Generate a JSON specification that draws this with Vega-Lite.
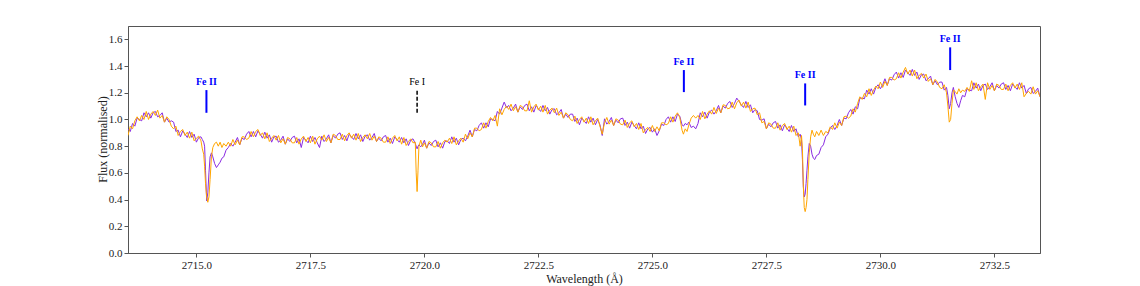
{
  "$schema": "https://vega.github.io/schema/vega-lite/v6.json",
  "width": 912,
  "height": 227,
  "autosize": "none",
  "padding": {"left": 128, "top": 26, "right": 100, "bottom": 33},
  "background": "white",
  "config": {
    "font": "Liberation Serif",
    "view": {"stroke": "#555", "strokeWidth": 1},
    "axis": {
      "grid": false,
      "labelFont": "Liberation Serif",
      "labelFontSize": 11,
      "labelColor": "#222",
      "titleFont": "Liberation Serif",
      "titleFontSize": 12,
      "titleFontWeight": "normal",
      "titleColor": "#222",
      "domainColor": "#555",
      "tickColor": "#555",
      "tickSize": 4,
      "labelPadding": 2
    },
    "axisX": {"titleX": 456, "titleY": 25, "titleBaseline": "middle"},
    "axisY": {"titleX": -26, "titleY": 113, "titleBaseline": "middle", "titleAngle": -90, "titleAlign": "center"}
  },
  "datasets": {
    "spec": [
      {"w":2713.50,"p":0.93,"o":0.88},{"w":2713.55,"p":0.91,"o":0.95},{"w":2713.60,"p":0.97,"o":0.93},{"w":2713.65,"p":0.95,"o":0.99},
      {"w":2713.70,"p":1.01,"o":1.02},{"w":2713.75,"p":1.00,"o":0.99},{"w":2713.80,"p":0.99,"o":1.03},{"w":2713.85,"p":1.05,"o":1.00},
      {"w":2713.90,"p":1.02,"o":1.06},{"w":2713.95,"p":1.05,"o":1.00},{"w":2714.00,"p":1.01,"o":1.04},{"w":2714.05,"p":1.05,"o":1.06},
      {"w":2714.10,"p":1.06,"o":1.03},{"w":2714.15,"p":1.02,"o":1.07},{"w":2714.20,"p":1.03,"o":1.01},{"w":2714.25,"p":1.05,"o":1.03},
      {"w":2714.30,"p":0.98,"o":0.98},{"w":2714.35,"p":1.01,"o":1.02},{"w":2714.40,"p":0.98,"o":1.00},{"w":2714.45,"p":0.99,"o":0.95},
      {"w":2714.50,"p":0.98,"o":0.93},{"w":2714.55,"p":0.91,"o":0.95},{"w":2714.60,"p":0.92,"o":0.88},{"w":2714.65,"p":0.87,"o":0.91},
      {"w":2714.70,"p":0.915,"o":0.925},{"w":2714.75,"p":0.89,"o":0.88},{"w":2714.80,"p":0.865,"o":0.905},{"w":2714.85,"p":0.91,"o":0.86},
      {"w":2714.90,"p":0.865,"o":0.905},{"w":2714.95,"p":0.89,"o":0.84},{"w":2715.00,"p":0.83,"o":0.86},{"w":2715.05,"p":0.865,"o":0.875},
      {"w":2715.10,"p":0.87,"o":0.84},{"w":2715.13,"p":0.85,"o":0.78},{"w":2715.16,"p":0.83,"o":0.74},{"w":2715.18,"p":0.80,"o":0.65},
      {"w":2715.20,"p":0.62,"o":0.52},{"w":2715.225,"p":0.39,"o":0.42},{"w":2715.25,"p":0.45,"o":0.38},{"w":2715.275,"p":0.60,"o":0.42},
      {"w":2715.30,"p":0.72,"o":0.55},{"w":2715.33,"p":0.75,"o":0.72},{"w":2715.36,"p":0.72,"o":0.79},{"w":2715.40,"p":0.67,"o":0.82},
      {"w":2715.44,"p":0.64,"o":0.83},{"w":2715.48,"p":0.66,"o":0.80},{"w":2715.52,"p":0.68,"o":0.83},{"w":2715.56,"p":0.71,"o":0.79},
      {"w":2715.60,"p":0.72,"o":0.82},{"w":2715.65,"p":0.77,"o":0.80},{"w":2715.70,"p":0.79,"o":0.83},{"w":2715.75,"p":0.82,"o":0.80},
      {"w":2715.80,"p":0.80,"o":0.85},{"w":2715.85,"p":0.83,"o":0.81},{"w":2715.90,"p":0.865,"o":0.845},{"w":2715.95,"p":0.81,"o":0.81},
      {"w":2716.00,"p":0.86,"o":0.87},{"w":2716.05,"p":0.85,"o":0.87},{"w":2716.10,"p":0.89,"o":0.85},{"w":2716.15,"p":0.91,"o":0.86},
      {"w":2716.20,"p":0.87,"o":0.91},{"w":2716.25,"p":0.91,"o":0.87},{"w":2716.30,"p":0.87,"o":0.91},{"w":2716.35,"p":0.915,"o":0.925},
      {"w":2716.40,"p":0.89,"o":0.88},{"w":2716.45,"p":0.86,"o":0.90},{"w":2716.50,"p":0.905,"o":0.855},{"w":2716.55,"p":0.86,"o":0.90},
      {"w":2716.60,"p":0.885,"o":0.835},{"w":2716.65,"p":0.83,"o":0.86},{"w":2716.70,"p":0.87,"o":0.88},{"w":2716.75,"p":0.875,"o":0.845},
      {"w":2716.80,"p":0.83,"o":0.88},{"w":2716.85,"p":0.845,"o":0.825},{"w":2716.90,"p":0.875,"o":0.855},{"w":2716.95,"p":0.815,"o":0.815},
      {"w":2717.00,"p":0.855,"o":0.865},{"w":2717.05,"p":0.835,"o":0.855},{"w":2717.10,"p":0.865,"o":0.825},{"w":2717.15,"p":0.875,"o":0.825},
      {"w":2717.20,"p":0.825,"o":0.865},{"w":2717.25,"p":0.855,"o":0.815},{"w":2717.30,"p":0.79,"o":0.855},{"w":2717.35,"p":0.865,"o":0.875},
      {"w":2717.40,"p":0.845,"o":0.835},{"w":2717.45,"p":0.825,"o":0.865},{"w":2717.50,"p":0.875,"o":0.825},{"w":2717.55,"p":0.835,"o":0.875},
      {"w":2717.60,"p":0.865,"o":0.815},{"w":2717.65,"p":0.825,"o":0.855},{"w":2717.70,"p":0.79,"o":0.875},{"w":2717.75,"p":0.875,"o":0.845},
      {"w":2717.80,"p":0.835,"o":0.885},{"w":2717.85,"p":0.855,"o":0.835},{"w":2717.90,"p":0.885,"o":0.865},{"w":2717.95,"p":0.825,"o":0.825},
      {"w":2718.00,"p":0.88,"o":0.89},{"w":2718.05,"p":0.86,"o":0.88},{"w":2718.10,"p":0.89,"o":0.85},{"w":2718.15,"p":0.90,"o":0.85},
      {"w":2718.20,"p":0.85,"o":0.89},{"w":2718.25,"p":0.88,"o":0.84},{"w":2718.30,"p":0.84,"o":0.88},{"w":2718.35,"p":0.89,"o":0.90},
      {"w":2718.40,"p":0.87,"o":0.86},{"w":2718.45,"p":0.85,"o":0.89},{"w":2718.50,"p":0.895,"o":0.845},{"w":2718.55,"p":0.855,"o":0.895},
      {"w":2718.60,"p":0.885,"o":0.835},{"w":2718.65,"p":0.835,"o":0.865},{"w":2718.70,"p":0.875,"o":0.885},{"w":2718.75,"p":0.885,"o":0.855},
      {"w":2718.80,"p":0.845,"o":0.895},{"w":2718.85,"p":0.865,"o":0.845},{"w":2718.90,"p":0.895,"o":0.875},{"w":2718.95,"p":0.835,"o":0.835},
      {"w":2719.00,"p":0.86,"o":0.87},{"w":2719.05,"p":0.84,"o":0.86},{"w":2719.10,"p":0.87,"o":0.83},{"w":2719.15,"p":0.88,"o":0.83},
      {"w":2719.20,"p":0.83,"o":0.87},{"w":2719.25,"p":0.86,"o":0.82},{"w":2719.30,"p":0.82,"o":0.86},{"w":2719.35,"p":0.87,"o":0.88},
      {"w":2719.40,"p":0.85,"o":0.84},{"w":2719.45,"p":0.83,"o":0.87},{"w":2719.50,"p":0.865,"o":0.815},{"w":2719.55,"p":0.825,"o":0.865},
      {"w":2719.60,"p":0.855,"o":0.805},{"w":2719.65,"p":0.805,"o":0.835},{"w":2719.70,"p":0.845,"o":0.855},{"w":2719.75,"p":0.855,"o":0.825},
      {"w":2719.80,"p":0.82,"o":0.83},{"w":2719.82,"p":0.80,"o":0.60},{"w":2719.84,"p":0.78,"o":0.46},{"w":2719.86,"p":0.80,"o":0.62},
      {"w":2719.88,"p":0.81,"o":0.80},{"w":2719.92,"p":0.795,"o":0.845},{"w":2719.96,"p":0.815,"o":0.795},{"w":2720.00,"p":0.845,"o":0.825},
      {"w":2720.05,"p":0.785,"o":0.785},{"w":2720.10,"p":0.825,"o":0.835},{"w":2720.15,"p":0.805,"o":0.825},{"w":2720.20,"p":0.835,"o":0.795},
      {"w":2720.25,"p":0.845,"o":0.795},{"w":2720.30,"p":0.795,"o":0.835},{"w":2720.35,"p":0.825,"o":0.785},{"w":2720.40,"p":0.785,"o":0.825},
      {"w":2720.45,"p":0.835,"o":0.845},{"w":2720.50,"p":0.84,"o":0.83},{"w":2720.55,"p":0.82,"o":0.86},{"w":2720.60,"p":0.87,"o":0.82},
      {"w":2720.65,"p":0.83,"o":0.87},{"w":2720.70,"p":0.86,"o":0.81},{"w":2720.75,"p":0.81,"o":0.84},{"w":2720.80,"p":0.85,"o":0.86},
      {"w":2720.85,"p":0.86,"o":0.83},{"w":2720.90,"p":0.84,"o":0.89},{"w":2720.95,"p":0.875,"o":0.855},{"w":2721.00,"p":0.92,"o":0.90},
      {"w":2721.05,"p":0.87,"o":0.87},{"w":2721.10,"p":0.925,"o":0.935},{"w":2721.15,"p":0.915,"o":0.935},{"w":2721.20,"p":0.955,"o":0.915},
      {"w":2721.25,"p":0.975,"o":0.925},{"w":2721.30,"p":0.935,"o":0.975},{"w":2721.35,"p":0.975,"o":0.935},{"w":2721.40,"p":0.945,"o":0.985},
      {"w":2721.45,"p":1.005,"o":1.015},{"w":2721.50,"p":1.00,"o":0.99},{"w":2721.55,"p":0.99,"o":1.03},{"w":2721.60,"p":1.06,"o":0.95},
      {"w":2721.65,"p":1.04,"o":1.08},{"w":2721.70,"p":1.085,"o":1.035},{"w":2721.75,"p":1.13,"o":1.075},{"w":2721.80,"p":1.09,"o":1.10},
      {"w":2721.85,"p":1.105,"o":1.075},{"w":2721.90,"p":1.065,"o":1.115},{"w":2721.95,"p":1.085,"o":1.065},{"w":2722.00,"p":1.115,"o":1.095},
      {"w":2722.05,"p":1.055,"o":1.055},{"w":2722.10,"p":1.095,"o":1.105},{"w":2722.15,"p":1.075,"o":1.095},{"w":2722.20,"p":1.105,"o":1.065},
      {"w":2722.25,"p":1.115,"o":1.065},{"w":2722.30,"p":1.065,"o":1.14},{"w":2722.35,"p":1.095,"o":1.055},{"w":2722.40,"p":1.055,"o":1.095},
      {"w":2722.45,"p":1.105,"o":1.115},{"w":2722.50,"p":1.08,"o":1.07},{"w":2722.55,"p":1.06,"o":1.10},{"w":2722.60,"p":1.105,"o":1.055},
      {"w":2722.65,"p":1.065,"o":1.105},{"w":2722.70,"p":1.09,"o":1.04},{"w":2722.75,"p":1.04,"o":1.07},{"w":2722.80,"p":1.075,"o":1.085},
      {"w":2722.85,"p":1.08,"o":1.05},{"w":2722.90,"p":1.035,"o":1.085},{"w":2722.95,"p":1.05,"o":1.03},{"w":2723.00,"p":1.075,"o":1.055},
      {"w":2723.05,"p":1.01,"o":1.01},{"w":2723.10,"p":1.04,"o":1.05},{"w":2723.15,"p":1.015,"o":1.035},{"w":2723.20,"p":1.04,"o":1.00},
      {"w":2723.25,"p":1.04,"o":0.99},{"w":2723.30,"p":0.985,"o":1.025},{"w":2723.35,"p":1.01,"o":0.97},{"w":2723.40,"p":0.96,"o":1.00},
      {"w":2723.45,"p":1.01,"o":1.02},{"w":2723.50,"p":0.99,"o":0.98},{"w":2723.55,"p":0.97,"o":1.01},{"w":2723.60,"p":1.02,"o":0.97},
      {"w":2723.65,"p":0.98,"o":1.02},{"w":2723.70,"p":1.01,"o":0.96},{"w":2723.75,"p":0.96,"o":0.99},{"w":2723.80,"p":1.00,"o":1.01},
      {"w":2723.85,"p":0.96,"o":0.95},{"w":2723.90,"p":0.88,"o":0.89},{"w":2723.95,"p":1.005,"o":0.975},{"w":2724.00,"p":0.965,"o":1.015},
      {"w":2724.05,"p":0.985,"o":0.965},{"w":2724.10,"p":1.015,"o":0.995},{"w":2724.15,"p":0.955,"o":0.955},{"w":2724.20,"p":0.995,"o":1.005},
      {"w":2724.25,"p":0.975,"o":0.995},{"w":2724.30,"p":1.005,"o":0.965},{"w":2724.35,"p":1.01,"o":0.96},{"w":2724.40,"p":0.955,"o":0.995},
      {"w":2724.45,"p":0.98,"o":0.94},{"w":2724.50,"p":0.935,"o":0.975},{"w":2724.55,"p":0.98,"o":0.99},{"w":2724.60,"p":0.955,"o":0.945},
      {"w":2724.65,"p":0.93,"o":0.97},{"w":2724.70,"p":0.975,"o":0.925},{"w":2724.75,"p":0.93,"o":0.97},{"w":2724.80,"p":0.95,"o":0.90},
      {"w":2724.85,"p":0.895,"o":0.925},{"w":2724.90,"p":0.93,"o":0.94},{"w":2724.95,"p":0.94,"o":0.91},{"w":2725.00,"p":0.905,"o":0.955},
      {"w":2725.05,"p":0.93,"o":0.91},{"w":2725.10,"p":0.88,"o":0.945},{"w":2725.15,"p":0.915,"o":0.915},{"w":2725.20,"p":0.965,"o":0.975},
      {"w":2725.25,"p":0.955,"o":0.975},{"w":2725.30,"p":1.00,"o":0.96},{"w":2725.35,"p":1.02,"o":0.97},{"w":2725.40,"p":0.98,"o":1.02},
      {"w":2725.45,"p":1.02,"o":0.98},{"w":2725.50,"p":0.985,"o":1.025},{"w":2725.55,"p":1.04,"o":1.05},{"w":2725.60,"p":1.025,"o":1.015},
      {"w":2725.65,"p":0.96,"o":0.92},{"w":2725.68,"p":0.95,"o":0.89},{"w":2725.72,"p":0.97,"o":0.93},{"w":2725.76,"p":0.96,"o":0.91},
      {"w":2725.80,"p":0.98,"o":0.96},{"w":2725.85,"p":0.94,"o":1.01},{"w":2725.90,"p":0.95,"o":1.03},{"w":2725.95,"p":0.93,"o":1.01},
      {"w":2726.00,"p":0.97,"o":1.03},{"w":2726.05,"p":1.05,"o":1.00},{"w":2726.10,"p":1.02,"o":1.06},{"w":2726.15,"p":1.055,"o":1.005},
      {"w":2726.20,"p":1.01,"o":1.04},{"w":2726.25,"p":1.055,"o":1.065},{"w":2726.30,"p":1.07,"o":1.04},{"w":2726.35,"p":1.04,"o":1.09},
      {"w":2726.40,"p":1.065,"o":1.045},{"w":2726.45,"p":1.105,"o":1.085},{"w":2726.50,"p":1.05,"o":1.05},{"w":2726.55,"p":1.10,"o":1.11},
      {"w":2726.60,"p":1.085,"o":1.105},{"w":2726.65,"p":1.12,"o":1.08},{"w":2726.70,"p":1.135,"o":1.085},{"w":2726.75,"p":1.09,"o":1.13},
      {"w":2726.80,"p":1.12,"o":1.08},{"w":2726.85,"p":1.16,"o":1.125},{"w":2726.90,"p":1.135,"o":1.145},{"w":2726.95,"p":1.11,"o":1.10},
      {"w":2727.00,"p":1.09,"o":1.13},{"w":2727.05,"p":1.135,"o":1.085},{"w":2727.10,"p":1.09,"o":1.13},{"w":2727.15,"p":1.11,"o":1.06},
      {"w":2727.20,"p":1.05,"o":1.08},{"w":2727.25,"p":1.075,"o":1.085},{"w":2727.30,"p":1.065,"o":1.035},{"w":2727.35,"p":1.00,"o":1.05},
      {"w":2727.40,"p":0.995,"o":0.975},{"w":2727.45,"p":1.005,"o":0.985},{"w":2727.50,"p":0.93,"o":0.93},{"w":2727.55,"p":0.965,"o":0.975},
      {"w":2727.60,"p":0.945,"o":0.965},{"w":2727.65,"p":0.975,"o":0.935},{"w":2727.70,"p":0.985,"o":0.935},{"w":2727.75,"p":0.935,"o":0.975},
      {"w":2727.80,"p":0.96,"o":0.92},{"w":2727.85,"p":0.915,"o":0.955},{"w":2727.90,"p":0.96,"o":0.97},{"w":2727.95,"p":0.935,"o":0.925},
      {"w":2728.00,"p":0.91,"o":0.95},{"w":2728.05,"p":0.955,"o":0.905},{"w":2728.10,"p":0.91,"o":0.95},{"w":2728.15,"p":0.93,"o":0.88},
      {"w":2728.20,"p":0.87,"o":0.90},{"w":2728.24,"p":0.89,"o":0.80},{"w":2728.27,"p":0.85,"o":0.88},{"w":2728.29,"p":0.70,"o":0.78},
      {"w":2728.31,"p":0.50,"o":0.50},{"w":2728.33,"p":0.42,"o":0.34},{"w":2728.35,"p":0.44,"o":0.31},{"w":2728.37,"p":0.52,"o":0.34},
      {"w":2728.39,"p":0.62,"o":0.40},{"w":2728.41,"p":0.72,"o":0.55},{"w":2728.44,"p":0.82,"o":0.75},{"w":2728.47,"p":0.80,"o":0.87},
      {"w":2728.50,"p":0.74,"o":0.92},{"w":2728.53,"p":0.71,"o":0.89},{"w":2728.56,"p":0.70,"o":0.87},{"w":2728.60,"p":0.73,"o":0.91},
      {"w":2728.65,"p":0.74,"o":0.88},{"w":2728.70,"p":0.79,"o":0.92},{"w":2728.75,"p":0.81,"o":0.88},{"w":2728.80,"p":0.87,"o":0.91},
      {"w":2728.85,"p":0.89,"o":0.90},{"w":2728.90,"p":0.935,"o":0.945},{"w":2728.95,"p":0.955,"o":0.925},{"w":2729.00,"p":0.925,"o":0.975},
      {"w":2729.05,"p":0.955,"o":0.935},{"w":2729.10,"p":1.00,"o":0.98},{"w":2729.15,"p":0.955,"o":0.955},{"w":2729.20,"p":1.01,"o":1.02},
      {"w":2729.25,"p":1.005,"o":1.025},{"w":2729.30,"p":1.05,"o":1.01},{"w":2729.35,"p":1.075,"o":1.025},{"w":2729.40,"p":1.04,"o":1.08},
      {"w":2729.45,"p":1.095,"o":1.055},{"w":2729.50,"p":1.08,"o":1.12},{"w":2729.55,"p":1.16,"o":1.17},{"w":2729.60,"p":1.16,"o":1.15},
      {"w":2729.65,"p":1.155,"o":1.195},{"w":2729.70,"p":1.22,"o":1.17},{"w":2729.75,"p":1.19,"o":1.23},{"w":2729.80,"p":1.23,"o":1.18},
      {"w":2729.85,"p":1.19,"o":1.22},{"w":2729.90,"p":1.24,"o":1.25},{"w":2729.95,"p":1.26,"o":1.23},{"w":2730.00,"p":1.23,"o":1.28},
      {"w":2730.05,"p":1.26,"o":1.24},{"w":2730.10,"p":1.305,"o":1.285},{"w":2730.15,"p":1.255,"o":1.255},{"w":2730.20,"p":1.305,"o":1.315},
      {"w":2730.25,"p":1.295,"o":1.315},{"w":2730.30,"p":1.335,"o":1.295},{"w":2730.35,"p":1.355,"o":1.305},{"w":2730.40,"p":1.31,"o":1.35},
      {"w":2730.45,"p":1.35,"o":1.31},{"w":2730.50,"p":1.315,"o":1.355},{"w":2730.55,"p":1.37,"o":1.39},{"w":2730.60,"p":1.35,"o":1.34},
      {"w":2730.65,"p":1.33,"o":1.37},{"w":2730.70,"p":1.375,"o":1.325},{"w":2730.75,"p":1.33,"o":1.37},{"w":2730.80,"p":1.355,"o":1.305},
      {"w":2730.85,"p":1.30,"o":1.33},{"w":2730.90,"p":1.335,"o":1.345},{"w":2730.95,"p":1.34,"o":1.31},{"w":2731.00,"p":1.29,"o":1.34},
      {"w":2731.05,"p":1.305,"o":1.285},{"w":2731.10,"p":1.325,"o":1.305},{"w":2731.15,"p":1.26,"o":1.26},{"w":2731.20,"p":1.29,"o":1.30},
      {"w":2731.25,"p":1.26,"o":1.28},{"w":2731.30,"p":1.28,"o":1.24},{"w":2731.35,"p":1.28,"o":1.23},{"w":2731.40,"p":1.22,"o":1.26},
      {"w":2731.45,"p":1.24,"o":1.20},{"w":2731.48,"p":1.18,"o":1.10},{"w":2731.51,"p":1.08,"o":0.98},{"w":2731.54,"p":1.12,"o":1.00},
      {"w":2731.57,"p":1.20,"o":1.12},{"w":2731.60,"p":1.24,"o":1.22},{"w":2731.64,"p":1.17,"o":1.21},{"w":2731.68,"p":1.12,"o":1.19},
      {"w":2731.72,"p":1.09,"o":1.23},{"w":2731.76,"p":1.14,"o":1.20},{"w":2731.80,"p":1.18,"o":1.22},{"w":2731.85,"p":1.17,"o":1.21},
      {"w":2731.90,"p":1.23,"o":1.24},{"w":2731.95,"p":1.22,"o":1.21},{"w":2732.00,"p":1.215,"o":1.29},{"w":2732.05,"p":1.275,"o":1.225},
      {"w":2732.10,"p":1.235,"o":1.275},{"w":2732.15,"p":1.265,"o":1.215},{"w":2732.20,"p":1.215,"o":1.245},{"w":2732.25,"p":1.255,"o":1.265},
      {"w":2732.30,"p":1.265,"o":1.15},{"w":2732.35,"p":1.225,"o":1.275},{"w":2732.40,"p":1.245,"o":1.225},{"w":2732.45,"p":1.275,"o":1.255},
      {"w":2732.50,"p":1.215,"o":1.215},{"w":2732.55,"p":1.255,"o":1.265},{"w":2732.60,"p":1.235,"o":1.255},{"w":2732.65,"p":1.265,"o":1.225},
      {"w":2732.70,"p":1.275,"o":1.225},{"w":2732.75,"p":1.225,"o":1.265},{"w":2732.80,"p":1.255,"o":1.215},{"w":2732.85,"p":1.215,"o":1.255},
      {"w":2732.90,"p":1.265,"o":1.275},{"w":2732.95,"p":1.245,"o":1.235},{"w":2733.00,"p":1.225,"o":1.265},{"w":2733.05,"p":1.275,"o":1.225},
      {"w":2733.10,"p":1.235,"o":1.275},{"w":2733.15,"p":1.255,"o":1.17},{"w":2733.20,"p":1.195,"o":1.195},{"w":2733.25,"p":1.23,"o":1.21},
      {"w":2733.30,"p":1.24,"o":1.19},{"w":2733.35,"p":1.195,"o":1.245},{"w":2733.40,"p":1.21,"o":1.19},{"w":2733.45,"p":1.235,"o":1.215},
      {"w":2733.50,"p":1.17,"o":1.17}
    ],
    "feii": [
      {"w":2715.22,"y1":1.05,"y2":1.22,"ly":1.28,"t":"Fe II"},
      {"w":2725.69,"y1":1.205,"y2":1.37,"ly":1.43,"t":"Fe II"},
      {"w":2728.35,"y1":1.105,"y2":1.27,"ly":1.33,"t":"Fe II"},
      {"w":2731.53,"y1":1.37,"y2":1.54,"ly":1.60,"t":"Fe II"}
    ],
    "fei": [
      {"w":2719.84,"y1":1.05,"y2":1.225,"ly":1.28,"t":"Fe I"}
    ]
  },
  "encoding": {
    "x": {"type": "quantitative", "title": "Wavelength (Å)",
          "scale": {"domain": [2713.5, 2733.5], "nice": false, "zero": false},
          "axis": {"values": [2715, 2717.5, 2720, 2722.5, 2725, 2727.5, 2730, 2732.5], "format": ".1f", "labelOverlap": false}},
    "y": {"type": "quantitative", "title": "Flux (normalised)",
          "scale": {"domain": [0, 1.7], "nice": false, "zero": true},
          "axis": {"tickCount": 9, "format": ".1f", "labelOverlap": false, "labelFlush": false, "labelBound": false}}
  },
  "layer": [
    {
      "data": {"name": "spec"},
      "mark": {"type": "line", "color": "#8a2be2", "strokeWidth": 1, "clip": true},
      "encoding": {"x": {"field": "w"}, "y": {"field": "p"}}
    },
    {
      "data": {"name": "spec"},
      "mark": {"type": "line", "color": "#ffa500", "strokeWidth": 1, "clip": true},
      "encoding": {"x": {"field": "w"}, "y": {"field": "o"}}
    },
    {
      "data": {"name": "feii"},
      "mark": {"type": "rule", "color": "#0000ff", "strokeWidth": 2},
      "encoding": {"x": {"field": "w"}, "y": {"field": "y1"}, "y2": {"field": "y2"}}
    },
    {
      "data": {"name": "fei"},
      "mark": {"type": "rule", "color": "#000000", "strokeWidth": 1.5, "strokeDash": [4, 2]},
      "encoding": {"x": {"field": "w"}, "y": {"field": "y1"}, "y2": {"field": "y2"}}
    },
    {
      "data": {"name": "feii"},
      "mark": {"type": "text", "color": "#0000ff", "font": "Liberation Serif", "fontSize": 10, "fontWeight": "bold", "baseline": "middle", "align": "center"},
      "encoding": {"x": {"field": "w"}, "y": {"field": "ly"}, "text": {"field": "t"}}
    },
    {
      "data": {"name": "fei"},
      "mark": {"type": "text", "color": "#000000", "font": "Liberation Serif", "fontSize": 10, "baseline": "middle", "align": "center"},
      "encoding": {"x": {"field": "w"}, "y": {"field": "ly"}, "text": {"field": "t"}}
    }
  ]
}
